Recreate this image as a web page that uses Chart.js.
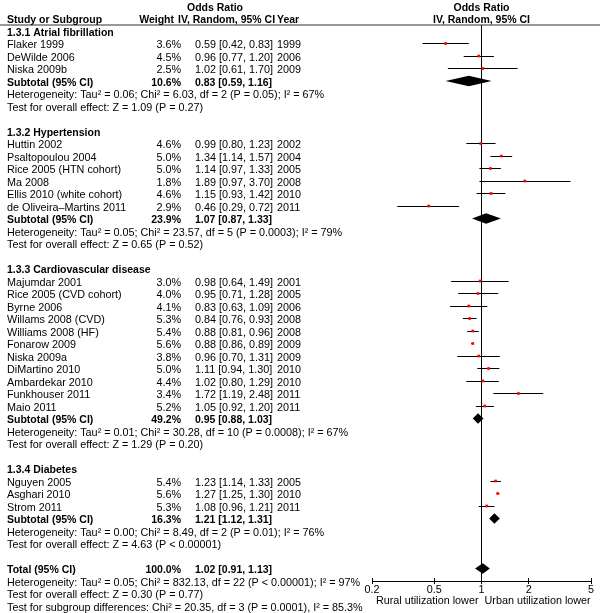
<!DOCTYPE html>
<html>
<head>
<meta charset="utf-8">
<title>Forest plot</title>
<script src="https://cdn.jsdelivr.net/npm/chart.js@4.4.1/dist/chart.umd.min.js"></script>
<style>
html, body { margin: 0; padding: 0; background: #fff; }
canvas { display: block; }
</style>
</head>
<body>
<canvas id="forest" width="600" height="613"></canvas>
<script>
'use strict';

const groupTitles = [
	'1.3.1 Atrial fibrillation',
	'1.3.2 Hypertension',
	'1.3.3 Cardiovascular disease',
	'1.3.4 Diabetes',
];

const studyNames = [
	'Flaker 1999', 'DeWilde 2006', 'Niska 2009b',
	'Huttin 2002', 'Psaltopoulou 2004', 'Rice 2005 (HTN cohort)', 'Ma 2008',
	'Ellis 2010 (white cohort)', 'de Oliveira\u2013Martins 2011',
	'Majumdar 2001', 'Rice 2005 (CVD cohort)', 'Byrne 2006', 'Willams 2008 (CVD)',
	'Williams 2008 (HF)', 'Fonarow 2009', 'Niska 2009a', 'DiMartino 2010',
	'Ambardekar 2010', 'Funkhouser 2011', 'Maio 2011',
	'Nguyen 2005', 'Asghari 2010', 'Strom 2011',
];
const studyGroups = [0, 0, 0, 1, 1, 1, 1, 1, 1, 2, 2, 2, 2, 2, 2, 2, 2, 2, 2, 2, 3, 3, 3];
const studyWeights = [3.6, 4.5, 2.5, 4.6, 5.0, 5.0, 1.8, 4.6, 2.9, 3.0, 4.0, 4.1, 5.3, 5.4, 5.6, 3.8, 5.0, 4.4, 3.4, 5.2, 5.4, 5.6, 5.3];
const studyOR    = [0.59, 0.96, 1.02, 0.99, 1.34, 1.14, 1.89, 1.15, 0.46, 0.98, 0.95, 0.83, 0.84, 0.88, 0.88, 0.96, 1.11, 1.02, 1.72, 1.05, 1.23, 1.27, 1.08];
const studyLower = [0.42, 0.77, 0.61, 0.80, 1.14, 0.97, 0.97, 0.93, 0.29, 0.64, 0.71, 0.63, 0.76, 0.81, 0.86, 0.70, 0.94, 0.80, 1.19, 0.92, 1.14, 1.25, 0.96];
const studyUpper = [0.83, 1.20, 1.70, 1.23, 1.57, 1.33, 3.70, 1.42, 0.72, 1.49, 1.28, 1.09, 0.93, 0.96, 0.89, 1.31, 1.30, 1.29, 2.48, 1.20, 1.33, 1.30, 1.21];
const studyYears = [1999, 2006, 2009, 2002, 2004, 2005, 2008, 2010, 2011, 2001, 2005, 2006, 2008, 2008, 2009, 2009, 2010, 2010, 2011, 2011, 2005, 2010, 2011];

const subtotalWeights = [10.6, 23.9, 49.2, 16.3];
const subtotalOR    = [0.83, 1.07, 0.95, 1.21];
const subtotalLower = [0.59, 0.87, 0.88, 1.12];
const subtotalUpper = [1.16, 1.33, 1.03, 1.31];
const heterogeneity = [
	'Heterogeneity: Tau\u00b2 = 0.06; Chi\u00b2 = 6.03, df = 2 (P = 0.05); I\u00b2 = 67%',
	'Heterogeneity: Tau\u00b2 = 0.05; Chi\u00b2 = 23.57, df = 5 (P = 0.0003); I\u00b2 = 79%',
	'Heterogeneity: Tau\u00b2 = 0.01; Chi\u00b2 = 30.28, df = 10 (P = 0.0008); I\u00b2 = 67%',
	'Heterogeneity: Tau\u00b2 = 0.00; Chi\u00b2 = 8.49, df = 2 (P = 0.01); I\u00b2 = 76%',
];
const overallEffect = [
	'Test for overall effect: Z = 1.09 (P = 0.27)',
	'Test for overall effect: Z = 0.65 (P = 0.52)',
	'Test for overall effect: Z = 1.29 (P = 0.20)',
	'Test for overall effect: Z = 4.63 (P < 0.00001)',
];

const totalWeight = 100.0;
const totalOR = 1.02;
const totalLower = 0.91;
const totalUpper = 1.13;
const totalNotes = [
	'Heterogeneity: Tau\u00b2 = 0.05; Chi\u00b2 = 832.13, df = 22 (P < 0.00001); I\u00b2 = 97%',
	'Test for overall effect: Z = 0.30 (P = 0.77)',
	'Test for subgroup differences: Chi\u00b2 = 20.35, df = 3 (P = 0.0001), I\u00b2 = 85.3%',
];

const axisTicks = [0.2, 0.5, 1, 2, 5];
const axisLabels = ['Rural utilization lower', 'Urban utilization lower'];

const FAMILY = '"Liberation Sans", Arial, sans-serif';
const FONT = '10.8px ' + FAMILY;
const BOLD = 'bold 10.5px ' + FAMILY;
const Y_MIN = 1.52;
const Y_MAX = 46;
const DIAMOND_H = 0.42;

function fmtCI(or, lo, hi) {
	return `${or.toFixed(2)} [${lo.toFixed(2)}, ${hi.toFixed(2)}]`;
}

function buildRows() {
	let rows = [{kind: 'title'}, {kind: 'header'}];
	groupTitles.forEach((title, g) => {
		rows.push({kind: 'group', text: title});
		studyNames.forEach((name, ix) => {
			if (studyGroups[ix] == g) {
				rows.push({kind: 'study', ix: ix});
			}
		});
		rows.push({kind: 'subtotal', g: g});
		rows.push({kind: 'note', text: heterogeneity[g]});
		rows.push({kind: 'note', text: overallEffect[g]});
		rows.push({kind: 'blank'});
	});
	rows.push({kind: 'total'});
	totalNotes.forEach(t => rows.push({kind: 'note', text: t}));
	return rows;
}

const rows = buildRows();

function crisp(v) {
	return Math.floor(v) + 0.5;
}

function text(ctx, str, x, y, align, font) {
	ctx.font = font || FONT;
	ctx.textAlign = align || 'left';
	ctx.fillText(str, x, y + 4.5);
}

function diamond(ctx, xs, ys, or, lo, hi, row) {
	ctx.beginPath();
	ctx.moveTo(xs.getPixelForValue(lo), ys.getPixelForValue(row));
	ctx.lineTo(xs.getPixelForValue(or), ys.getPixelForValue(row - DIAMOND_H));
	ctx.lineTo(xs.getPixelForValue(hi), ys.getPixelForValue(row));
	ctx.lineTo(xs.getPixelForValue(or), ys.getPixelForValue(row + DIAMOND_H));
	ctx.closePath();
	ctx.fill();
}

const forestPlugin = {
	id: 'forest',
	beforeDatasetsDraw(chart) {
		let ctx = chart.ctx, xs = chart.scales.x, ys = chart.scales.y;
		ctx.save();
		ctx.strokeStyle = '#000';
		ctx.fillStyle = '#000';
		ctx.lineWidth = 1;
		rows.forEach((row, r) => {
			if (row.kind == 'study') {
				let y = crisp(ys.getPixelForValue(r));
				ctx.beginPath();
				ctx.moveTo(xs.getPixelForValue(studyLower[row.ix]), y);
				ctx.lineTo(xs.getPixelForValue(studyUpper[row.ix]), y);
				ctx.stroke();
			}
			else if (row.kind == 'subtotal') {
				diamond(ctx, xs, ys, subtotalOR[row.g], subtotalLower[row.g], subtotalUpper[row.g], r);
			}
			else if (row.kind == 'total') {
				diamond(ctx, xs, ys, totalOR, totalLower, totalUpper, r);
			}
		});
		ctx.restore();
	},
	afterDraw(chart) {
		let ctx = chart.ctx, xs = chart.scales.x, ys = chart.scales.y;
		let area = chart.chartArea;
		let x1 = xs.getPixelForValue(1);
		ctx.save();
		ctx.fillStyle = '#000';
		ctx.textBaseline = 'alphabetic';

		// header rule
		ctx.strokeStyle = '#333';
		ctx.lineWidth = 1;
		ctx.beginPath();
		ctx.moveTo(0, area.top);
		ctx.lineTo(chart.width, area.top);
		ctx.stroke();

		// tick marks across the axis line
		ctx.strokeStyle = '#000';
		for (let v of axisTicks) {
			let x = crisp(xs.getPixelForValue(v));
			ctx.beginPath();
			ctx.moveTo(x, area.bottom - 3);
			ctx.lineTo(x, area.bottom + 3);
			ctx.stroke();
		}
		text(ctx, axisLabels[0], x1 - 3, area.bottom + 18, 'right');
		text(ctx, axisLabels[1], x1 + 3, area.bottom + 18, 'left');

		rows.forEach((row, r) => {
			let y = ys.getPixelForValue(r);
			switch (row.kind) {
			case 'title':
				text(ctx, 'Odds Ratio', 187, y, 'left', BOLD);
				text(ctx, 'Odds Ratio', x1, y, 'center', BOLD);
				break;
			case 'header':
				text(ctx, 'Study or Subgroup', 7, y, 'left', BOLD);
				text(ctx, 'Weight', 174, y, 'right', BOLD);
				text(ctx, 'IV, Random, 95% CI', 178, y, 'left', BOLD);
				text(ctx, 'Year', 277, y, 'left', BOLD);
				text(ctx, 'IV, Random, 95% CI', x1, y, 'center', BOLD);
				break;
			case 'group':
				text(ctx, row.text, 7, y, 'left', BOLD);
				break;
			case 'study':
				text(ctx, studyNames[row.ix], 7, y);
				text(ctx, studyWeights[row.ix].toFixed(1) + '%', 181, y, 'right');
				text(ctx, fmtCI(studyOR[row.ix], studyLower[row.ix], studyUpper[row.ix]), 195, y);
				text(ctx, String(studyYears[row.ix]), 277, y);
				break;
			case 'subtotal':
				text(ctx, 'Subtotal (95% CI)', 7, y, 'left', BOLD);
				text(ctx, subtotalWeights[row.g].toFixed(1) + '%', 181, y, 'right', BOLD);
				text(ctx, fmtCI(subtotalOR[row.g], subtotalLower[row.g], subtotalUpper[row.g]), 195, y, 'left', BOLD);
				break;
			case 'total':
				text(ctx, 'Total (95% CI)', 7, y, 'left', BOLD);
				text(ctx, totalWeight.toFixed(1) + '%', 181, y, 'right', BOLD);
				text(ctx, fmtCI(totalOR, totalLower, totalUpper), 195, y, 'left', BOLD);
				break;
			case 'note':
				text(ctx, row.text, 7, y);
				break;
			}
		});
		ctx.restore();
	}
};

let points = [];
rows.forEach((row, r) => {
	if (row.kind == 'study') {
		points.push({x: studyOR[row.ix], y: r});
	}
});

new Chart(document.getElementById('forest'), {
	type: 'scatter',
	data: {
		datasets: [
			{
				label: 'studies',
				data: points,
				pointStyle: 'rect',
				pointRadius: 1.9,
				borderWidth: 0,
				backgroundColor: '#ff0000',
				order: 0,
			},
			{
				type: 'line',
				label: 'no effect',
				data: [{x: 1, y: Y_MIN}, {x: 1, y: Y_MAX}],
				borderColor: '#000',
				borderWidth: 1,
				pointRadius: 0,
				order: 1,
			},
		],
	},
	plugins: [forestPlugin],
	options: {
		responsive: false,
		animation: false,
		devicePixelRatio: 1,
		events: [],
		layout: {
			padding: {left: 372, right: 9, top: 25, bottom: 0},
		},
		plugins: {
			legend: {display: false},
			tooltip: {enabled: false},
		},
		scales: {
			x: {
				type: 'logarithmic',
				min: 0.2,
				max: 5,
				afterBuildTicks: scale => {
					scale.ticks = axisTicks.map(v => ({value: v}));
				},
				afterFit: scale => {
					scale.height = 32;
				},
				grid: {display: false, drawTicks: false},
				border: {display: true, color: '#000', width: 1},
				ticks: {
					autoSkip: false,
					maxRotation: 0,
					padding: 3,
					color: '#000',
					font: {family: FAMILY, size: 10.8},
					callback: value => String(value),
				},
			},
			y: {
				type: 'linear',
				display: false,
				reverse: true,
				min: Y_MIN,
				max: Y_MAX,
			},
		},
	},
});
</script>
</body>
</html>
